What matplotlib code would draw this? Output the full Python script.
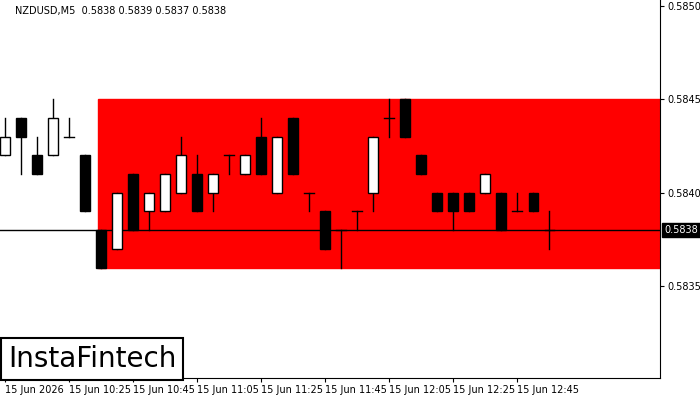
import matplotlib
matplotlib.use("Agg")
import matplotlib.pyplot as plt
from matplotlib.patches import Rectangle

opens  = [0.5842,0.5844,0.5842,0.5842,0.5843,0.5842,0.5838,0.5837,0.5841,0.5839,0.5839,0.5840,0.5841,0.5840,0.5842,0.5841,0.5843,0.5840,0.5844,0.5840,0.5839,0.5838,0.5839,0.5840,0.5844,0.5845,0.5842,0.5840,0.5840,0.5840,0.5840,0.5840,0.5839,0.5840,0.5838]
closes = [0.5843,0.5843,0.5841,0.5844,0.5843,0.5839,0.5836,0.5840,0.5838,0.5840,0.5841,0.5842,0.5839,0.5841,0.5842,0.5842,0.5841,0.5843,0.5841,0.5840,0.5837,0.5838,0.5839,0.5843,0.5844,0.5843,0.5841,0.5839,0.5839,0.5839,0.5841,0.5838,0.5839,0.5839,0.5838]
highs  = [0.5844,0.5844,0.5843,0.5845,0.5844,0.5842,0.5838,0.5840,0.5841,0.5840,0.5841,0.5843,0.5842,0.5841,0.5842,0.5842,0.5844,0.5843,0.5844,0.5840,0.5839,0.5838,0.5839,0.5843,0.5845,0.5845,0.5842,0.5840,0.5840,0.5840,0.5841,0.5840,0.5840,0.5840,0.5839]
lows   = [0.5842,0.5841,0.5841,0.5842,0.5843,0.5839,0.5836,0.5837,0.5838,0.5838,0.5839,0.5840,0.5839,0.5839,0.5841,0.5841,0.5841,0.5840,0.5841,0.5839,0.5837,0.5836,0.5838,0.5839,0.5843,0.5843,0.5841,0.5839,0.5838,0.5839,0.5840,0.5838,0.5839,0.5839,0.5837]
tick_idx = [0,4,8,12,16,20,24,28,32]
tick_labels = ["15 Jun 2026","15 Jun 10:25","15 Jun 10:45","15 Jun 11:05","15 Jun 11:25","15 Jun 11:45","15 Jun 12:05","15 Jun 12:25","15 Jun 12:45"]
yticks = [0.5835,0.5840,0.5845,0.5850]
zone_lo, zone_hi, zone_start = 0.5836, 0.5845, 5.8
current = 0.5838

fig = plt.figure(figsize=(7,4), dpi=100)
ax = fig.add_axes([0, 0.055, 660/700, 0.945])
ax.set_xlim(-0.31, 40.9)
ax.set_ylim(0.58301, 0.58503)
ax.add_patch(Rectangle((zone_start, zone_lo), 40.9-zone_start, zone_hi-zone_lo, color="#ff0000", zorder=1))
ax.axhline(current, color="black", lw=1, zorder=2)
w = 0.62
for i,(o,c,h,l) in enumerate(zip(opens,closes,highs,lows)):
    ax.plot([i,i],[l,h], color="black", lw=1, zorder=3)
    if o == c:
        ax.plot([i-w/2,i+w/2],[o,o], color="black", lw=1, zorder=3)
    else:
        ax.add_patch(Rectangle((i-w/2, min(o,c)), w, abs(c-o),
                     facecolor="white" if c>o else "black", edgecolor="black", lw=1, zorder=4))
ax.yaxis.tick_right()
ax.set_yticks(yticks)
ax.set_yticklabels([f"{v:.4f}" for v in yticks], fontsize=7)
ax.set_xticks(tick_idx)
ax.set_xticklabels(tick_labels, fontsize=7, ha="left")
ax.tick_params(axis="x", length=3, pad=2)
ax.tick_params(axis="y", length=3, pad=2)
for s in ["top","left"]:
    ax.spines[s].set_visible(False)
ax.annotate(f"{current:.4f}", xy=(1, current), xycoords=("axes fraction","data"),
            xytext=(3,0), textcoords="offset points", va="center", ha="left",
            fontsize=7, color="white", bbox=dict(boxstyle="square,pad=0.2", fc="black", ec="black"))
ax.text(0.022, 0.985, "NZDUSD,M5  0.5838 0.5839 0.5837 0.5838", transform=ax.transAxes,
        fontsize=7, va="top", ha="left")
fig.text(8/700, 1-359/400, "InstaFintech", fontsize=20, va="center", ha="left",
         bbox=dict(boxstyle="square,pad=0.25", fc="white", ec="black", lw=1.5))
fig.savefig("out.png", dpi=100)
